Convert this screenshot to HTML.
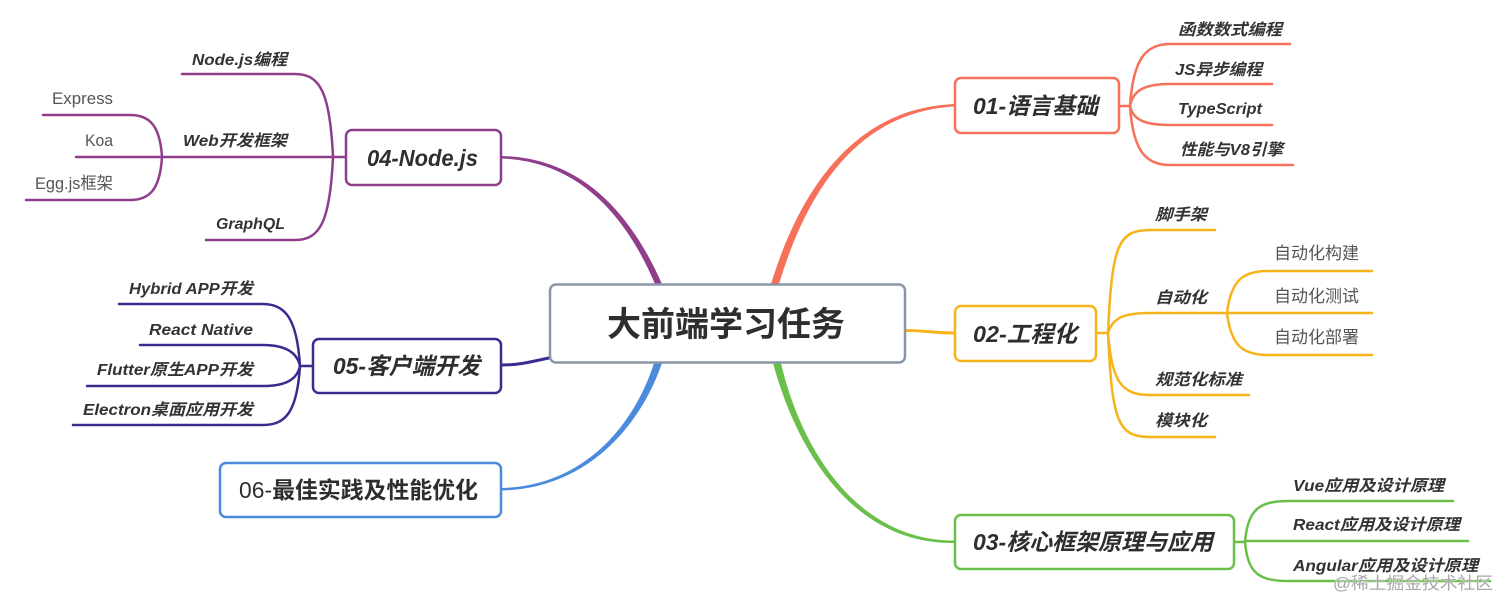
<!DOCTYPE html>
<html><head><meta charset="utf-8"><style>
html,body{margin:0;padding:0;background:#fff;}
svg{display:block;}
text{font-family:"Liberation Sans","Noto Sans CJK SC",sans-serif;}
.m{font-size:23px;font-weight:bold;font-style:italic;fill:#2e2e2e;}
.s{font-size:16px;font-weight:bold;font-style:italic;fill:#333;}
.r{font-size:17px;font-weight:normal;fill:#555;}
</style></head><body>
<svg width="1512" height="610" viewBox="0 0 1512 610" xmlns="http://www.w3.org/2000/svg">
<rect width="1512" height="610" fill="#fff"/>

<!-- main tapered connectors -->
<path d="M500,156 C577,157 628,207 662,284 L655,284 C624,211 575,160.5 500,158.5 Z" fill="#8f3e8c"/>
<path d="M771,284 C797,200 848,108 955,104 L955,106.5 C851,112 804,202 779,284 Z" fill="#f6705a"/>
<path d="M773,363 C795,445 850,545 955,543 L955,540.5 C853,541 799,442 781,363 Z" fill="#6abf4b"/>
<path d="M654,363 C636,420 588,486 501,488 L501,490.5 C590,489 642,422 662,363 Z" fill="#4a8cdb"/>
<path d="M905,330.5 C930,330.5 930,333 955,333" fill="none" stroke="#f6b41a" stroke-width="3"/>
<path d="M551,357.5 C530,362 520,365 501,365" fill="none" stroke="#3b2b8e" stroke-width="3"/>

<g fill="none" stroke-width="2.5" stroke-linecap="round">
<!-- 01 children -->
<g stroke="#f6705a">
<path d="M1119,106 L1130,106"/>
<path d="M1130,106 C1133,60 1145,44 1170,44 L1290,44"/>
<path d="M1130,106 C1133,90 1145,84 1170,84 L1272,84"/>
<path d="M1130,106 C1133,120 1145,125 1170,125 L1272,125"/>
<path d="M1130,106 C1133,150 1145,165 1170,165 L1293,165"/>
</g>
<!-- 02 children -->
<g stroke="#f6b41a">
<path d="M1096,333 L1108,333"/>
<path d="M1108,333 C1112,245 1118,230 1150,230 L1215,230"/>
<path d="M1108,333 C1113,317 1125,313 1150,313 L1227,313"/>
<path d="M1108,333 C1112,380 1120,395 1150,395 L1249,395"/>
<path d="M1108,333 C1112,422 1118,437 1150,437 L1215,437"/>
<path d="M1227,313 C1231,280 1243,271 1268,271 L1372,271"/>
<path d="M1227,313 L1372,313"/>
<path d="M1227,313 C1231,346 1243,355 1268,355 L1372,355"/>
</g>
<!-- 03 children -->
<g stroke="#6abf4b">
<path d="M1234,542 L1245,542"/>
<path d="M1245,542 C1248,508 1260,501 1290,501 L1453,501"/>
<path d="M1245,541 L1468,541"/>
<path d="M1245,542 C1248,575 1260,581 1290,581 L1490,581"/>
</g>
<!-- 04 children -->
<g stroke="#8f3e8c">
<path d="M346,157 L333,157"/>
<path d="M333,157 C330,92 320,74 295,74 L182,74"/>
<path d="M333,157 L162,157"/>
<path d="M333,157 C330,222 320,240 295,240 L206,240"/>
<path d="M162,157 C160,126 150,115 130,115 L43,115"/>
<path d="M162,157 L76,157"/>
<path d="M162,157 C160,189 150,200 130,200 L26,200"/>
</g>
<!-- 05 children -->
<g stroke="#3b2b8e">
<path d="M313,366 L300,366"/>
<path d="M300,366 C297,318 285,304 263,304 L119,304"/>
<path d="M300,366 C297,352 285,345 263,345 L140,345"/>
<path d="M300,366 C297,380 285,386 263,386 L87,386"/>
<path d="M300,366 C297,413 285,425 263,425 L73,425"/>
</g>
</g>

<!-- boxes -->
<g fill="#fff" stroke-width="2.5">
<rect x="550" y="284.5" width="355" height="78" rx="6" stroke="#8896a5"/>
<rect x="955" y="78" width="164" height="55" rx="6" stroke="#f6705a"/>
<rect x="955" y="306" width="141" height="55" rx="6" stroke="#f6b41a"/>
<rect x="955" y="515" width="279" height="54" rx="6" stroke="#6abf4b"/>
<rect x="346" y="130" width="155" height="55" rx="6" stroke="#8f3e8c"/>
<rect x="313" y="339" width="188" height="54" rx="6" stroke="#3b2b8e"/>
<rect x="220" y="463" width="281" height="54" rx="6" stroke="#4a8cdb"/>
</g>

<!-- center title -->
<text x="607" y="336" font-size="34" font-weight="bold" fill="#2e2e2e" textLength="238" lengthAdjust="spacingAndGlyphs">大前端学习任务</text>

<!-- main node labels -->
<text class="m" x="973" y="114" textLength="125" lengthAdjust="spacingAndGlyphs">01-语言基础</text>
<text class="m" x="973" y="342" textLength="104" lengthAdjust="spacingAndGlyphs">02-工程化</text>
<text class="m" x="973" y="550" textLength="240" lengthAdjust="spacingAndGlyphs">03-核心框架原理与应用</text>
<text class="m" x="367" y="166" textLength="111" lengthAdjust="spacingAndGlyphs">04-Node.js</text>
<text class="m" x="333" y="374" textLength="147" lengthAdjust="spacingAndGlyphs">05-客户端开发</text>
<text x="239" y="498" font-size="23" fill="#2e2e2e" textLength="239" lengthAdjust="spacingAndGlyphs"><tspan font-weight="normal">06-</tspan><tspan font-weight="bold">最佳实践及性能优化</tspan></text>

<!-- 01 children -->
<text class="s" x="1178" y="35" textLength="104" lengthAdjust="spacingAndGlyphs">函数数式编程</text>
<text class="s" x="1175" y="75" textLength="87" lengthAdjust="spacingAndGlyphs">JS异步编程</text>
<text class="s" x="1178" y="114" textLength="84" lengthAdjust="spacingAndGlyphs">TypeScript</text>
<text class="s" x="1180" y="155" textLength="103" lengthAdjust="spacingAndGlyphs">性能与V8引擎</text>

<!-- 02 children -->
<text class="s" x="1155" y="220" textLength="52" lengthAdjust="spacingAndGlyphs">脚手架</text>
<text class="s" x="1155" y="303" textLength="52" lengthAdjust="spacingAndGlyphs">自动化</text>
<text class="s" x="1155" y="385" textLength="87" lengthAdjust="spacingAndGlyphs">规范化标准</text>
<text class="s" x="1155" y="426" textLength="52" lengthAdjust="spacingAndGlyphs">模块化</text>
<text class="r" x="1274" y="259" textLength="85" lengthAdjust="spacingAndGlyphs">自动化构建</text>
<text class="r" x="1274" y="302" textLength="85" lengthAdjust="spacingAndGlyphs">自动化测试</text>
<text class="r" x="1274" y="343" textLength="85" lengthAdjust="spacingAndGlyphs">自动化部署</text>

<!-- 03 children -->
<text class="s" x="1293" y="491" textLength="151" lengthAdjust="spacingAndGlyphs">Vue应用及设计原理</text>
<text class="s" x="1293" y="530" textLength="167" lengthAdjust="spacingAndGlyphs">React应用及设计原理</text>
<text class="s" x="1293" y="571" textLength="185" lengthAdjust="spacingAndGlyphs">Angular应用及设计原理</text>

<!-- 04 children -->
<text class="s" x="192" y="65" textLength="95" lengthAdjust="spacingAndGlyphs">Node.js编程</text>
<text class="s" x="183" y="146" textLength="104" lengthAdjust="spacingAndGlyphs">Web开发框架</text>
<text class="s" x="216" y="229" textLength="69" lengthAdjust="spacingAndGlyphs">GraphQL</text>
<text class="r" x="52" y="104" textLength="61" lengthAdjust="spacingAndGlyphs">Express</text>
<text class="r" x="85" y="146" textLength="28" lengthAdjust="spacingAndGlyphs">Koa</text>
<text class="r" x="35" y="189" textLength="78" lengthAdjust="spacingAndGlyphs">Egg.js框架</text>

<!-- 05 children -->
<text class="s" x="129" y="294" textLength="124" lengthAdjust="spacingAndGlyphs">Hybrid APP开发</text>
<text class="s" x="149" y="335" textLength="104" lengthAdjust="spacingAndGlyphs">React Native</text>
<text class="s" x="97" y="375" textLength="156" lengthAdjust="spacingAndGlyphs">Flutter原生APP开发</text>
<text class="s" x="83" y="415" textLength="170" lengthAdjust="spacingAndGlyphs">Electron桌面应用开发</text>

<!-- watermark -->
<text x="1333" y="589" font-size="17" fill="#a8a8a8" stroke="#fff" stroke-width="0.6" paint-order="stroke" textLength="160" lengthAdjust="spacingAndGlyphs">@稀土掘金技术社区</text>
</svg>
</body></html>
